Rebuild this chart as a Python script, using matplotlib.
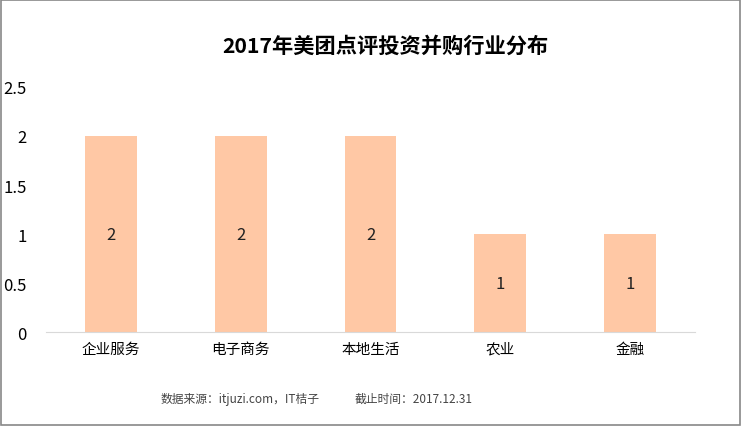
import matplotlib.pyplot as plt
from matplotlib.patches import Rectangle

plt.rcParams['font.family'] = ['Noto Sans CJK SC', 'DejaVu Sans']

categories = ['企业服务', '电子商务', '本地生活', '农业', '金融']
counts = [2, 2, 2, 1, 1]
yticks = [0, 0.5, 1, 1.5, 2, 2.5]
ytick_labels = ['0', '0.5', '1', '1.5', '2', '2.5']

fig = plt.figure(figsize=(7.41, 4.27), dpi=100)
ax = fig.add_axes([0.062, 0.22, 0.876, 0.574])

x = range(len(categories))
bars = ax.bar(x, counts, width=0.4, color='#FFC8A5')
for b, v in zip(bars, counts):
    ax.text(b.get_x() + b.get_width() / 2, v / 2, str(v), ha='center', va='center',
            fontsize=12, color='#222222')

ax.set_xlim(-0.5, len(categories) - 0.5)
ax.set_ylim(0, 2.5)
ax.set_yticks(yticks)
ax.set_yticklabels(ytick_labels, fontsize=12)
ax.set_xticks(list(x))
ax.set_xticklabels(categories, fontsize=10.5)
ax.tick_params(length=0)
ax.tick_params(axis='y', pad=14)
ax.tick_params(axis='x', pad=7)
for s in ['top', 'right', 'left']:
    ax.spines[s].set_visible(False)
ax.spines['bottom'].set_color('#d9d9d9')

fig.text(0.52, 0.892, '2017年美团点评投资并购行业分布', ha='center', va='center',
         fontsize=15.3, fontweight='bold')
fig.text(0.216, 0.065, '数据来源：itjuzi.com，IT桔子', ha='left', va='center',
         fontsize=8.5, color='#444444')
fig.text(0.479, 0.065, '截止时间：2017.12.31', ha='left', va='center',
         fontsize=8.5, color='#444444')

# grey frame round the whole picture
fig.patches.append(Rectangle((0.001, 0.002), 0.997, 0.995, transform=fig.transFigure,
                             fill=False, edgecolor='#888888', linewidth=1.2))

fig.savefig('out.png', dpi=100)
